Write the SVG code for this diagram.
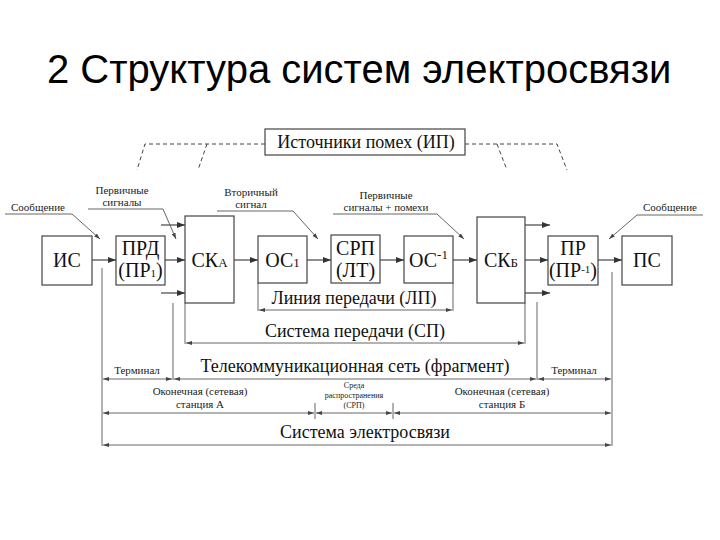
<svg xmlns="http://www.w3.org/2000/svg" width="720" height="540" viewBox="0 0 720 540">
<defs>
<marker id="ah" markerWidth="8" markerHeight="6" refX="8" refY="3" orient="auto" markerUnits="userSpaceOnUse">
<path d="M0,0 L8,3 L0,6 Z" fill="#333"/>
</marker>
<marker id="sh" markerWidth="6" markerHeight="4" refX="6" refY="2" orient="auto-start-reverse" markerUnits="userSpaceOnUse">
<path d="M0,0 L6,2 L0,4 Z" fill="#444"/>
</marker>
<style>
.box{fill:#fff;stroke:#444;stroke-width:1.2}
.ln{fill:none;stroke:#333;stroke-width:1.1}
.thin{fill:none;stroke:#666;stroke-width:1}
.dash{fill:none;stroke:#444;stroke-width:1;stroke-dasharray:4 3}
.bt{font-family:"Liberation Serif","DejaVu Serif","Times New Roman",serif;font-size:20px;fill:#111;text-anchor:middle}
.lbl{font-family:"Liberation Serif","DejaVu Serif","Times New Roman",serif;font-size:18px;fill:#111;text-anchor:middle}
.sm{font-family:"Liberation Serif","DejaVu Serif","Times New Roman",serif;font-size:11px;fill:#222;text-anchor:middle}
.xs{font-family:"Liberation Serif","DejaVu Serif","Times New Roman",serif;font-size:8px;fill:#222;text-anchor:middle}
.title{font-family:"Liberation Sans",Arial,sans-serif;font-size:40px;fill:#000}
</style>
</defs>
<rect width="720" height="540" fill="#fff"/>
<text class="title" x="47" y="83">2 Структура систем электросвязи</text>

<g id="ip">
<rect class="box" x="265" y="129" width="200" height="26"/>
<text class="lbl" x="366" y="148">Источники помех (ИП)</text>
</g>

<g id="connectors">
<path class="dash" d="M265,144 H145 L137,170"/>
<path class="dash" d="M207,144 L198,170"/>
<path class="dash" d="M465,144 H557 L567,170"/>
<path class="dash" d="M497,144 L507,170"/>
<path class="ln" d="M92,260 H116" marker-end="url(#ah)"/>
<path class="ln" d="M165,260 H185" marker-end="url(#ah)"/>
<path class="ln" d="M161,225 H185" marker-end="url(#ah)"/>
<path class="ln" d="M161,293 H185" marker-end="url(#ah)"/>
<path class="ln" d="M234,260 H258" marker-end="url(#ah)"/>
<path class="ln" d="M307,260 H331" marker-end="url(#ah)"/>
<path class="ln" d="M380,260 H404" marker-end="url(#ah)"/>
<path class="ln" d="M453,260 H477" marker-end="url(#ah)"/>
<path class="ln" d="M525,260 H548" marker-end="url(#ah)"/>
<path class="ln" d="M525,225 H550" marker-end="url(#ah)"/>
<path class="ln" d="M525,293 H550" marker-end="url(#ah)"/>
<path class="ln" d="M598,260 H622" marker-end="url(#ah)"/>
<path class="thin" d="M5,214 H72 L100,239" marker-end="url(#sh)"/>
<path class="thin" d="M88,209 H163 L176,239" marker-end="url(#sh)"/>
<path class="thin" d="M217,211 H293 L318,239" marker-end="url(#sh)"/>
<path class="thin" d="M333,214 H437 L464,239" marker-end="url(#sh)"/>
<path class="thin" d="M703,215 H637 L609,239" marker-end="url(#sh)"/>
<path class="thin" d="M102,268 V446"/>
<path class="thin" d="M173,303 V380"/>
<path class="thin" d="M185,303 V344"/>
<path class="thin" d="M258,283 V311"/>
<path class="thin" d="M453,283 V311"/>
<path class="thin" d="M525,303 V344"/>
<path class="thin" d="M537,302 V380"/>
<path class="thin" d="M612,272 V446"/>
<path class="thin" d="M315,403 V419"/>
<path class="thin" d="M393,403 V419"/>
<path class="thin" d="M259,310 H452" marker-start="url(#sh)" marker-end="url(#sh)"/>
<path class="thin" d="M186,343 H524" marker-start="url(#sh)" marker-end="url(#sh)"/>
<path class="thin" d="M103,379 H172" marker-start="url(#sh)" marker-end="url(#sh)"/>
<path class="thin" d="M174,379 H536" marker-start="url(#sh)" marker-end="url(#sh)"/>
<path class="thin" d="M538,379 H611" marker-start="url(#sh)" marker-end="url(#sh)"/>
<path class="thin" d="M103,413 H314" marker-start="url(#sh)" marker-end="url(#sh)"/>
<path class="thin" d="M316,413 H392" marker-start="url(#sh)" marker-end="url(#sh)"/>
<path class="thin" d="M394,413 H611" marker-start="url(#sh)" marker-end="url(#sh)"/>
<path class="thin" d="M103,445 H611" marker-start="url(#sh)" marker-end="url(#sh)"/>
</g>

<g id="is"><rect class="box" x="42" y="236" width="50" height="49"/><text class="bt" x="67" y="267">ИС</text></g>
<g id="prd"><rect class="box" x="116" y="236" width="49" height="49"/>
<text class="bt" x="140.5" y="255" font-size="18">ПРД</text>
<text class="bt" x="140.5" y="277" font-size="18">(ПР<tspan font-size="11">1</tspan>)</text></g>
<g id="ska"><rect class="box" x="185" y="216" width="49" height="87"/><text class="bt" x="209.5" y="267">СК<tspan font-size="13">А</tspan></text></g>
<g id="os1"><rect class="box" x="258" y="236" width="49" height="47"/><text class="bt" x="282.5" y="267">ОС<tspan font-size="13">1</tspan></text></g>
<g id="srp"><rect class="box" x="331" y="235" width="49" height="48"/>
<text class="bt" x="355.5" y="255" font-size="19">СРП</text>
<text class="bt" x="355.5" y="277" font-size="19">(ЛТ)</text></g>
<g id="osinv"><rect class="box" x="404" y="236" width="49" height="47"/><text class="bt" x="428.5" y="267">ОС<tspan font-size="13" dy="-8">-1</tspan></text></g>
<g id="skb"><rect class="box" x="477" y="217" width="48" height="86"/><text class="bt" x="501" y="267">СК<tspan font-size="13">Б</tspan></text></g>
<g id="pr"><rect class="box" x="548" y="236" width="50" height="49"/>
<text class="bt" x="573" y="255" font-size="18">ПР</text>
<text class="bt" x="573" y="277" font-size="18">(ПР<tspan font-size="11" dy="-4">-1</tspan><tspan dy="4">)</tspan></text></g>
<g id="ps"><rect class="box" x="622" y="236" width="50" height="49"/><text class="bt" x="647" y="267">ПС</text></g>

<g id="labels">
<text class="sm" x="38" y="211">Сообщение</text>
<text class="sm" x="122" y="194">Первичные</text>
<text class="sm" x="122" y="206">сигналы</text>
<text class="sm" x="251" y="196">Вторичный</text>
<text class="sm" x="251" y="208">сигнал</text>
<text class="sm" x="386" y="199">Первичные</text>
<text class="sm" x="386" y="211">сигналы + помехи</text>
<text class="sm" x="670" y="211">Сообщение</text>
<text class="lbl" x="354" y="304">Линия передачи (ЛП)</text>
<text class="lbl" x="355" y="337">Система передачи (СП)</text>
<text class="lbl" x="355" y="372" font-size="19">Телекоммуникационная сеть (фрагмент)</text>
<text class="sm" x="137" y="374" font-size="12">Терминал</text>
<text class="sm" x="574" y="374" font-size="12">Терминал</text>
<text class="sm" x="200" y="395" font-size="12">Оконечная (сетевая)</text>
<text class="sm" x="200" y="408" font-size="12">станция А</text>
<text class="xs" x="354" y="388">Среда</text>
<text class="xs" x="354" y="398">распространения</text>
<text class="xs" x="354" y="408">(СРП)</text>
<text class="sm" x="502" y="395" font-size="12">Оконечная (сетевая)</text>
<text class="sm" x="502" y="408" font-size="12">станция Б</text>
<text class="lbl" x="365" y="438">Система электросвязи</text>
</g>
</svg>
